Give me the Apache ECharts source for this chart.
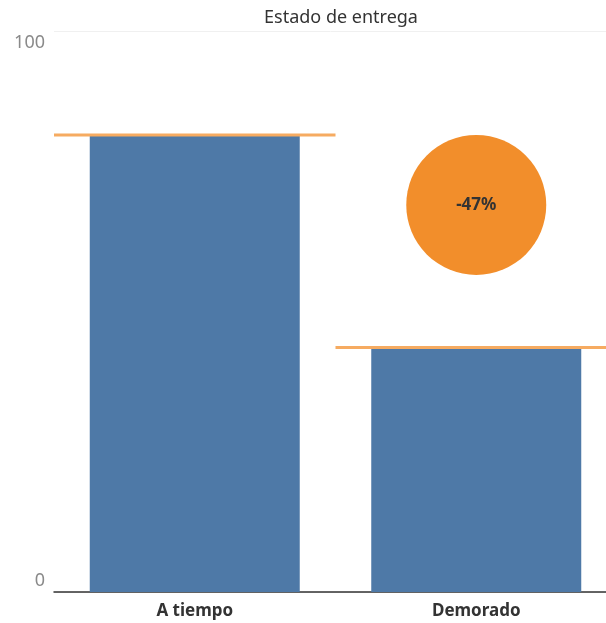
<!DOCTYPE html>
<html><head><meta charset="utf-8">
<script src="https://cdn.jsdelivr.net/npm/echarts@6/dist/echarts.min.js"></script>
<style>html,body{margin:0;padding:0;background:#fff}#c{width:606px;height:623px}</style>
</head><body><div id="c"></div>
<script>
const title = 'Estado de entrega';
const categories = ['A tiempo', 'Demorado'];
const values = [81.3, 43.4];
const refValues = [81.3, 43.4];
const bubblePos = ['Demorado', 69];
const yTicks = [0, 100];

const pct = Math.round((values[1] / values[0] - 1) * 100) + '%';
const font = '"Noto Sans", sans-serif';
const chart = echarts.init(document.getElementById('c'), null, {renderer: 'canvas'});
chart.setOption({
  animation: false,
  title: {text: title, left: 336, textAlign: 'center', top: 4,
    textStyle: {fontFamily: font, fontSize: 18, fontWeight: 'normal', color: '#333'}},
  grid: {left: 54, width: 563, top: 31, bottom: 31, containLabel: false, outerBoundsMode: 'none'},
  xAxis: {type: 'category', data: categories,
    axisLine: {lineStyle: {color: '#333', width: 1.5}},
    axisTick: {show: false},
    axisLabel: {margin: 11, fontFamily: font, fontSize: 17, fontWeight: 'bold', color: '#333'}},
  yAxis: {type: 'value', min: yTicks[0], max: yTicks[1], interval: 100,
    axisLine: {show: false}, axisTick: {show: false},
    splitLine: {lineStyle: {color: '#f0f0f0', width: 1}},
    axisLabel: {margin: 9, fontFamily: font, fontSize: 18, color: '#8a8a8a',
      verticalAlignMinLabel: 'bottom', verticalAlignMaxLabel: 'top',
      padding: [3, 0, 2, 0]}},
  series: [
    {type: 'bar', data: values, barWidth: '74.6%', itemStyle: {color: '#4e79a7'}, z: 2},
    {type: 'custom', z: 3, data: categories.map((c, i) => [i, refValues[i]]),
      renderItem: function (params, api) {
        const p = api.coord([api.value(0), api.value(1)]);
        const w = api.size([1, 0])[0];
        return {type: 'line', shape: {x1: p[0] - w / 2, y1: p[1] - 1, x2: p[0] + w / 2, y2: p[1] - 1},
          style: {stroke: '#f6ab61', lineWidth: 3}};
      }},
    {type: 'scatter', z: 4, data: [bubblePos], symbolSize: 140,
      itemStyle: {color: '#f28e2b', opacity: 1},
      label: {show: true, position: 'inside', formatter: pct,
        fontFamily: font, fontSize: 17, fontWeight: 'bold', color: '#333'}}
  ]
});
</script></body></html>
